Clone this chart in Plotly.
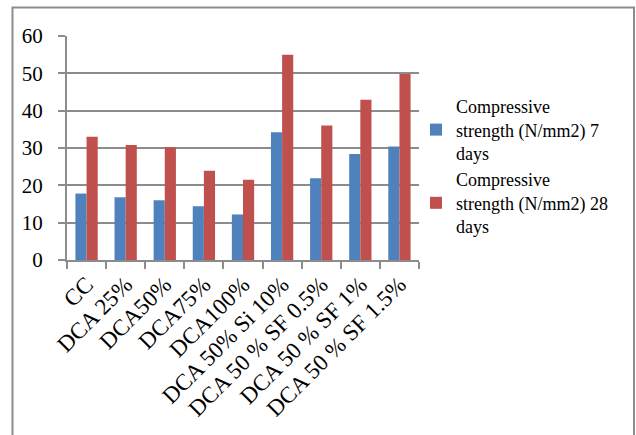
import plotly.graph_objects as go

categories = ["CC", "DCA 25%", "DCA50%", "DCA75%", "DCA100%",
              "DCA 50% Si 10%", "DCA 50 % SF 0.5%", "DCA 50 % SF 1%",
              "DCA 50 % SF 1.5%"]
strength_7d = [17.8, 16.8, 16.0, 14.4, 12.2, 34.2, 21.9, 28.4, 30.4]
strength_28d = [33.0, 30.8, 30.2, 23.9, 21.5, 55.0, 36.0, 42.9, 49.8]

series_lines = [["Compressive", "strength (N/mm2) 7", "days"],
                ["Compressive", "strength (N/mm2) 28", "days"]]
y_ticks = [0, 10, 20, 30, 40, 50, 60]

BLUE = "#4F81BD"
RED = "#C0504D"
GRID = "#8C8C8C"
FONT = "Liberation Serif"


def serif_name(lines):
    # legend entries are wrapped in a span so they keep the serif face
    return "<br>".join(
        f"<span style='font-family:{FONT}, serif'>{t}</span>" for t in lines)


fig = go.Figure()
fig.add_trace(go.Bar(x=categories, y=strength_7d,
                     name=serif_name(series_lines[0]),
                     marker=dict(color=BLUE, line=dict(width=0))))
fig.add_trace(go.Bar(x=categories, y=strength_28d,
                     name=serif_name(series_lines[1]),
                     marker=dict(color=RED, line=dict(width=0))))

W, H = 636, 435
L, R, T, B = 67, 217, 36, 175
pw, ph = W - L - R, H - T - B


def px_x(v):
    return (v - L) / pw


def px_y(v):
    return (H - B - v) / ph


fig.update_layout(
    width=W, height=H,
    margin=dict(l=L, r=R, t=T, b=B, pad=0),
    paper_bgcolor="white", plot_bgcolor="white",
    font=dict(family=FONT, size=20, color="black"),
    barmode="group", bargap=0.43, bargroupgap=0,
    showlegend=True,
    legend=dict(x=px_x(416), y=px_y(88), xanchor="left", yanchor="top",
                font=dict(family=FONT, size=18, color="black"),
                bgcolor="rgba(0,0,0,0)", itemwidth=30),
    xaxis=dict(type="category", tickangle=-45, tickson="boundaries",
               ticks="outside", ticklen=7, tickwidth=2, tickcolor=GRID,
               showline=True, linecolor=GRID, linewidth=2,
               showgrid=False, tickfont=dict(family=FONT, size=23)),
    yaxis=dict(range=[0, 60], tickvals=y_ticks, ticks="outside", ticklen=7,
               tickwidth=2, tickcolor=GRID, showline=True, linecolor=GRID,
               linewidth=2, showgrid=True, gridcolor=GRID, gridwidth=2,
               zeroline=False, ticklabelstandoff=11,
               tickfont=dict(family=FONT, size=21)),
    shapes=[dict(type="rect", xref="paper", yref="paper",
                 x0=px_x(12.5), x1=px_x(634), y0=px_y(445), y1=px_y(7.5),
                 line=dict(color="#8C8C8C", width=2), layer="below")],
)

fig.write_html("out.html")
